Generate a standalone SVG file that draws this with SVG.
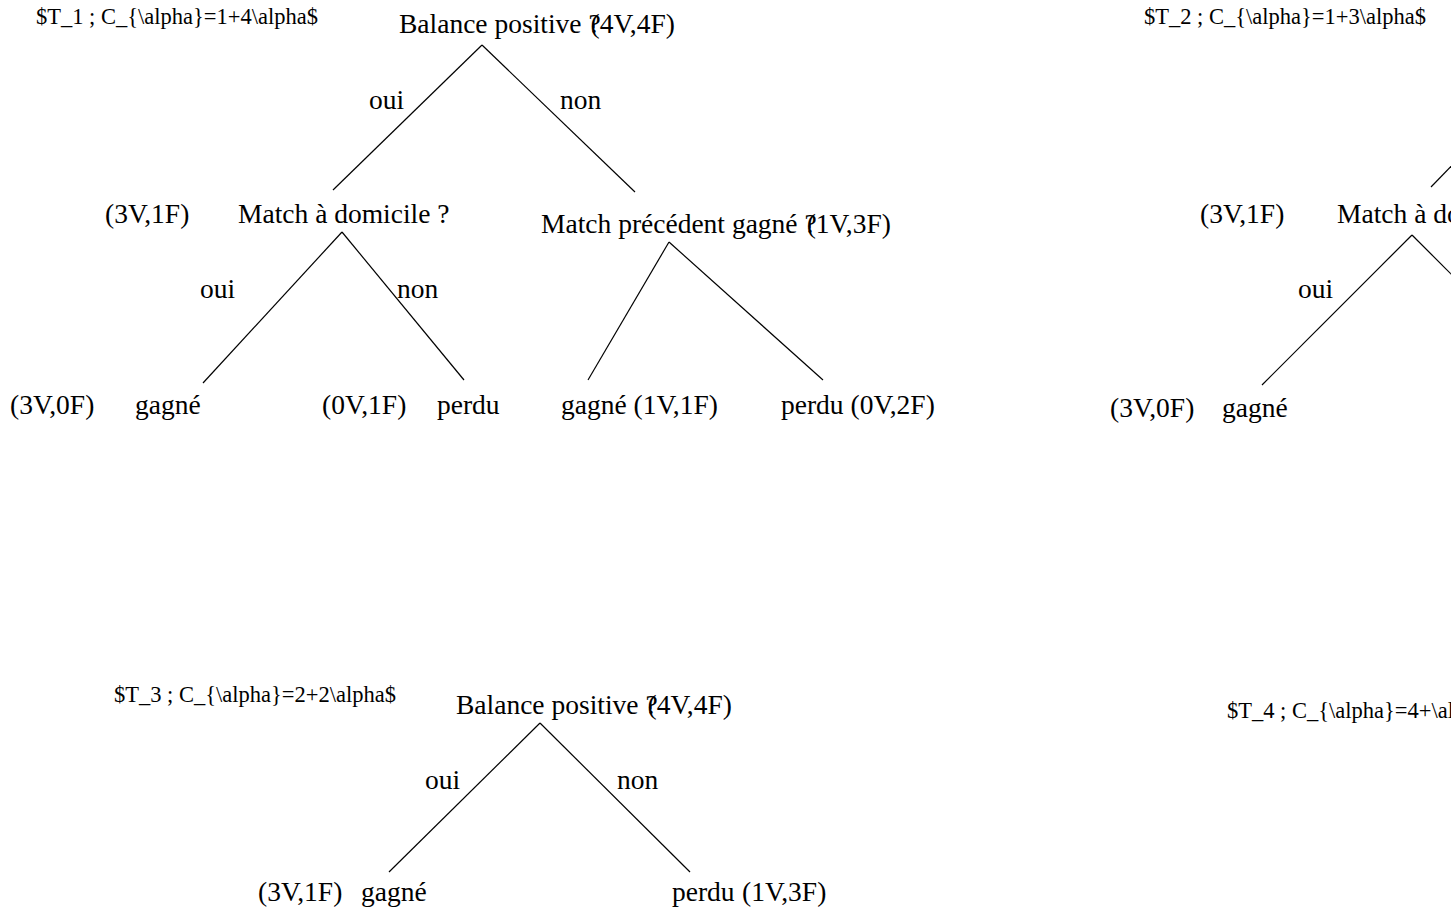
<svg xmlns="http://www.w3.org/2000/svg" width="1451" height="909" viewBox="0 0 1451 909">
<style>
text{font-family:"Liberation Serif","Times New Roman",serif;fill:#000}
.m{font-size:27.5px}
.h{font-size:22.5px}
.e{stroke:#000;stroke-width:1.2;fill:none}
</style>
<rect width="1451" height="909" fill="#fff"/>
<g id="connectors">
<line class="e" x1="482" y1="45" x2="333" y2="190"/>
<line class="e" x1="482" y1="45" x2="635" y2="192"/>
<line class="e" x1="342" y1="232" x2="203" y2="383"/>
<line class="e" x1="342" y1="232" x2="464" y2="380"/>
<line class="e" x1="669" y1="242" x2="588" y2="380"/>
<line class="e" x1="669" y1="242" x2="823" y2="380"/>
<line class="e" x1="1460" y1="157" x2="1431" y2="187"/>
<line class="e" x1="1412" y1="235" x2="1262" y2="385"/>
<line class="e" x1="1412" y1="235" x2="1460" y2="283"/>
<line class="e" x1="540" y1="723" x2="389" y2="872"/>
<line class="e" x1="540" y1="723" x2="690" y2="872"/>
</g>
<g id="t1">
<text id="t1-title" class="h" x="36" y="24">$T_1 ; C_{\alpha}=1+4\alpha$</text>
<g id="t1-root"><text class="m" x="399" y="33">Balance positive ?<tspan dx="-10">(4V,4F)</tspan></text></g>
<g id="t1-l1"><text class="m" x="369" y="109">oui</text><text class="m" x="560" y="109">non</text></g>
<g id="t1-home"><text class="m" x="105" y="223">(3V,1F)</text><text class="m" x="238" y="223">Match à domicile ?</text></g>
<g id="t1-prev"><text class="m" x="541" y="233">Match précédent gagné ?<tspan dx="-10">(1V,3F)</tspan></text></g>
<g id="t1-l2"><text class="m" x="200" y="298">oui</text><text class="m" x="397" y="298">non</text></g>
<g id="t1-leaf1"><text class="m" x="10" y="414">(3V,0F)</text><text class="m" x="135" y="414">gagné</text></g>
<g id="t1-leaf2"><text class="m" x="322" y="414">(0V,1F)</text><text class="m" x="437" y="414">perdu</text></g>
<g id="t1-leaf3"><text class="m" x="561" y="414">gagné (1V,1F)</text></g>
<g id="t1-leaf4"><text class="m" x="781" y="414">perdu (0V,2F)</text></g>
</g>
<g id="t2">
<text id="t2-title" class="h" x="1144" y="24">$T_2 ; C_{\alpha}=1+3\alpha$</text>
<g id="t2-home"><text class="m" x="1200" y="223">(3V,1F)</text><text class="m" x="1337" y="223">Match à domicile ?</text></g>
<g id="t2-l2"><text class="m" x="1298" y="298">oui</text></g>
<g id="t2-leaf1"><text class="m" x="1110" y="417">(3V,0F)</text><text class="m" x="1222" y="417">gagné</text></g>
</g>
<g id="t3">
<text id="t3-title" class="h" x="114" y="702">$T_3 ; C_{\alpha}=2+2\alpha$</text>
<g id="t3-root"><text class="m" x="456" y="714">Balance positive ?<tspan dx="-10">(4V,4F)</tspan></text></g>
<g id="t3-l1"><text class="m" x="425" y="789">oui</text><text class="m" x="617" y="789">non</text></g>
<g id="t3-leaf1"><text class="m" x="258" y="901">(3V,1F)</text><text class="m" x="361" y="901">gagné</text></g>
<g id="t3-leaf2"><text class="m" x="672" y="901">perdu</text><text class="m" x="742" y="901">(1V,3F)</text></g>
</g>
<g id="t4">
<text id="t4-title" class="h" x="1227" y="718">$T_4 ; C_{\alpha}=4+\alpha$</text>
</g>
</svg>
